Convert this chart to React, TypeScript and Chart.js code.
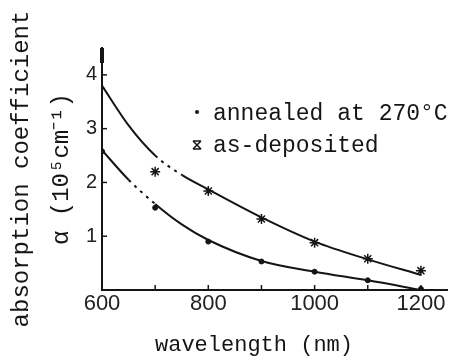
import React, { useEffect, useRef } from "react";
import { Chart, registerables } from "chart.js";
Chart.register(...registerables);

// Fitted curves (smooth lines drawn through the data)
const fitWavelengths = [600, 650, 700, 750, 800, 900, 1000, 1100, 1200];
const annealedFit = [2.6, 2.05, 1.6, 1.22, 0.93, 0.54, 0.34, 0.18, 0.0];
const asDepositedFit = [3.8, 3.06, 2.5, 2.14, 1.87, 1.35, 0.9, 0.57, 0.28];

// Measured points
const annealedWl = [600, 700, 800, 900, 1000, 1100, 1200];
const annealedPts = [2.58, 1.53, 0.9, 0.53, 0.34, 0.18, 0.02];
const asDepWl = [700, 800, 900, 1000, 1100, 1200];
const asDepPts = [2.2, 1.84, 1.32, 0.88, 0.58, 0.36];

const xTickLabels = [600, 800, 1000, 1200];
const yTickLabels = [1, 2, 3, 4];
const legendLabels = ["annealed at 270°C", "as-deposited"];
const xTitle = "wavelength (nm)";
const yTitle = ["absorption coefficient", "α (10⁵cm⁻¹)"];

const INK = "#151515";

const toXY = (xs: number[], ys: number[]) => xs.map((x, i) => ({ x, y: ys[i] }));

export default function App() {
  const ref = useRef<HTMLCanvasElement | null>(null);
  useEffect(() => {
    if (!ref.current) return;
    const decor = {
      id: "decor",
      afterDraw(chart: any) {
        const { ctx, chartArea, scales } = chart;
        const x = scales.x;
        const y = scales.y;
        ctx.save();
        ctx.strokeStyle = INK;
        ctx.fillStyle = INK;
        ctx.lineWidth = 1.5;
        // inward tick marks
        for (let v = 700; v <= 1200; v += 100) {
          const px = x.getPixelForValue(v);
          ctx.beginPath();
          ctx.moveTo(px, chartArea.bottom);
          ctx.lineTo(px, chartArea.bottom - 5);
          ctx.stroke();
        }
        for (const v of yTickLabels) {
          const py = y.getPixelForValue(v);
          ctx.beginPath();
          ctx.moveTo(chartArea.left, py);
          ctx.lineTo(chartArea.left + 5, py);
          ctx.stroke();
        }
        // thick top of y axis
        ctx.lineWidth = 4;
        ctx.beginPath();
        ctx.moveTo(chartArea.left, chartArea.top);
        ctx.lineTo(chartArea.left, chartArea.top + 15);
        ctx.stroke();
        // legend
        const lx = chartArea.left + 95;
        const ly1 = chartArea.top + 64;
        const ly2 = chartArea.top + 97;
        ctx.beginPath();
        ctx.arc(lx, ly1, 2, 0, Math.PI * 2);
        ctx.fill();
        ctx.lineWidth = 1.5;
        const s = 4;
        ctx.beginPath();
        ctx.moveTo(lx - s, ly2 - s);
        ctx.lineTo(lx + s, ly2 + s);
        ctx.moveTo(lx + s, ly2 - s);
        ctx.lineTo(lx - s, ly2 + s);
        ctx.moveTo(lx - s, ly2 - s);
        ctx.lineTo(lx + s, ly2 - s);
        ctx.moveTo(lx - s, ly2 + s);
        ctx.lineTo(lx + s, ly2 + s);
        ctx.stroke();
        ctx.font = "23px 'Liberation Mono'";
        ctx.textBaseline = "alphabetic";
        ctx.textAlign = "left";
        ctx.fillText(legendLabels[0], chartArea.left + 111, chartArea.top + 72);
        ctx.fillText(legendLabels[1], chartArea.left + 111, chartArea.top + 104);
        // x title
        ctx.font = "22px 'Liberation Mono'";
        ctx.textAlign = "center";
        ctx.textBaseline = "middle";
        ctx.fillText(xTitle, 254, 345);
        ctx.restore();
      },
    };

    const chart = new Chart(ref.current, {
      type: "scatter",
      data: {
        datasets: [
          {
            data: toXY(fitWavelengths, asDepositedFit),
            showLine: true,
            borderColor: INK,
            borderWidth: 2,
            pointRadius: 0,
            tension: 0.4,
            cubicInterpolationMode: "monotone",
            segment: {
              borderDash: (c: any) => (c.p0DataIndex === 2 ? [3, 5] : undefined),
            },
          },
          {
            data: toXY(fitWavelengths, annealedFit),
            showLine: true,
            borderColor: INK,
            borderWidth: 2,
            pointRadius: 0,
            tension: 0.4,
            cubicInterpolationMode: "monotone",
            segment: {
              borderDash: (c: any) => (c.p0DataIndex === 1 ? [3, 5] : undefined),
            },
          },
          {
            data: toXY(annealedWl, annealedPts),
            showLine: false,
            pointStyle: "circle",
            pointRadius: 2.5,
            backgroundColor: INK,
            borderColor: INK,
          },
          {
            data: toXY(asDepWl, asDepPts),
            showLine: false,
            pointStyle: "star",
            pointRadius: 5,
            borderWidth: 1.5,
            backgroundColor: INK,
            borderColor: INK,
          },
        ],
      } as any,
      options: {
        responsive: false,
        animation: false,
        layout: { padding: { left: 0, top: 48, right: 4, bottom: 0 } },
        plugins: { legend: { display: false }, tooltip: { enabled: false } },
        scales: {
          x: {
            type: "linear",
            min: 600,
            max: 1250,
            afterFit: (s: any) => {
              s.height = 70;
            },
            border: { display: true, color: INK, width: 2 },
            grid: { display: true, drawOnChartArea: false, drawTicks: false },
            ticks: {
              stepSize: 100,
              includeBounds: false,
              autoSkip: false,
              maxRotation: 0,
              padding: 1,
              color: "#222",
              font: { family: "'Liberation Sans'", size: 22 },
              callback: (v: any) => (xTickLabels.includes(Number(v)) ? String(v) : ""),
            },
          },
          y: {
            type: "linear",
            min: 0,
            max: 4.5,
            afterFit: (s: any) => {
              s.width = 102;
            },
            border: { display: true, color: INK, width: 2 },
            grid: { display: true, drawOnChartArea: false, drawTicks: false },
            title: {
              display: true,
              text: yTitle,
              color: INK,
              font: { family: "'Liberation Mono'", size: 24, lineHeight: 1.67 },
              padding: { top: 2, bottom: 0 },
            },
            ticks: {
              stepSize: 1,
              includeBounds: false,
              autoSkip: false,
              padding: 5,
              color: "#222",
              font: { family: "'Liberation Sans'", size: 20 },
              callback: (v: any) => (yTickLabels.includes(Number(v)) ? String(v) : ""),
            },
          },
        },
      } as any,
      plugins: [decor],
    });
    return () => chart.destroy();
  }, []);

  return (
    <div style={{ position: "fixed", left: 0, top: 0, width: 454, height: 360, background: "#fff" }}>
      <canvas ref={ref} width={454} height={360} style={{ width: 454, height: 360 }} />
    </div>
  );
}
